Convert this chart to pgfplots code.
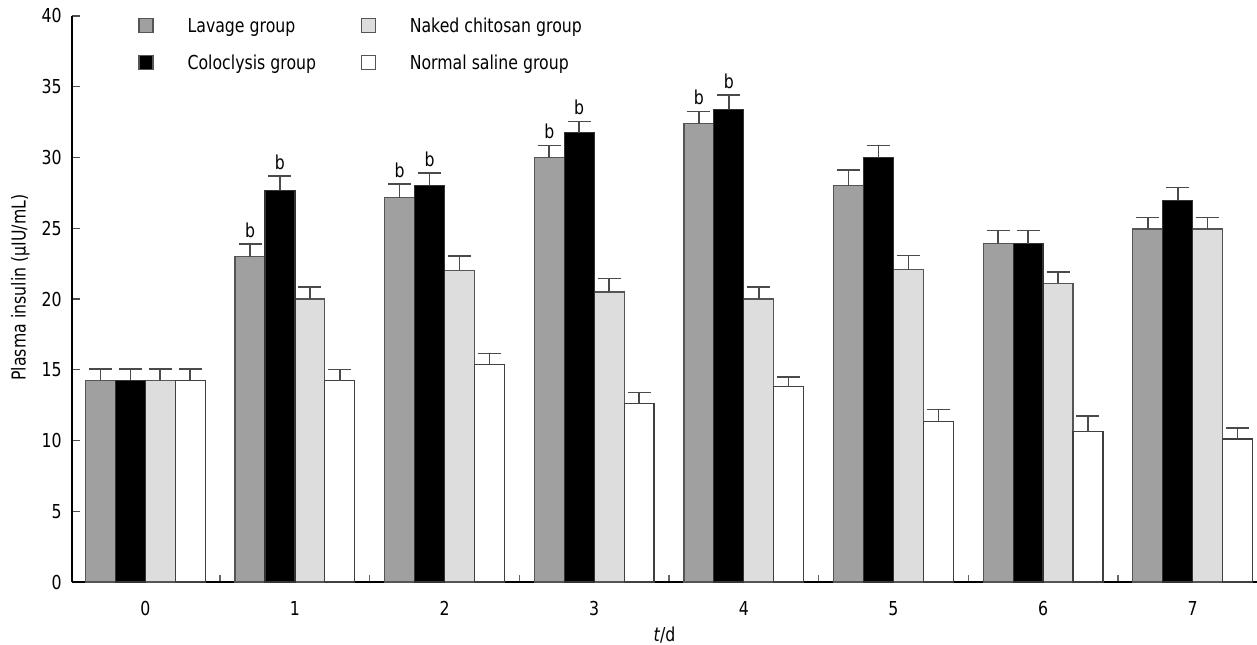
\documentclass[border=0pt]{standalone}
\usepackage{fontspec}
\setmainfont{DejaVu Sans}[FakeStretch=0.82]
\usepackage{pgfplots}
\pgfplotsset{compat=1.18}
\definecolor{lav}{HTML}{A0A0A0}
\definecolor{nak}{HTML}{DCDDDC}
\definecolor{edge}{HTML}{555555}
\definecolor{ebar}{HTML}{4A4A4A}
\newcommand\ff{\fontsize{9.6}{11.5}\selectfont}
\pgfplotsset{
  sq/.style={legend image code/.code={\draw[##1, draw=edge, line width=0.6pt] (0pt,-2.5pt) rectangle (7pt,4.5pt);}},
  eb/.style={error bars/y dir=plus, error bars/y explicit,
    error bars/error bar style={line width=0.8pt, ebar},
    error bars/error mark options={rotate=90, mark size=5.75pt, line width=0.8pt, ebar}},
}
\begin{document}
\ff
\begin{tikzpicture}
\begin{axis}[
  scale only axis, width=592.5pt, height=283pt,
  at={(0,0)}, anchor=south west,
  xmin=-0.49, xmax=7.43, ymin=0, ymax=40,
  axis x line*=bottom, axis y line*=left,
  axis line style={line width=0.6pt, black},
  ybar=0pt, bar width=0.2,
  xtick={0,...,7}, minor xtick={0.5,1.5,...,6.5},
  ytick={0,5,...,40},
  major x tick style={draw=none},
  minor x tick style={line width=0.7pt, black!60},
  major y tick style={line width=0.6pt, black!70},
  tick align=inside,
  major tick length=4pt, minor tick length=3.5pt,
  /pgf/number format/assume math mode=true,
  tick label style={font=\ff},
  xticklabel style={inner sep=0pt, anchor=north, yshift=-9.3pt},
  yticklabel style={inner sep=0pt, anchor=east, xshift=-5pt},
  xlabel={\textit{t}/d},
  xlabel style={at={(axis description cs:0.5,0)}, anchor=north, inner sep=0pt, yshift=-22.5pt, font=\ff},
  ylabel={Plasma insulin (μIU/mL)},
  ylabel style={at={(axis description cs:-0.0354,0.52)}, anchor=south, inner sep=0pt, font=\ff},
  legend columns=2,
  legend cell align=left,
  legend style={at={(0.0557,0.99735)}, anchor=north west, draw=none, fill=none, inner sep=0pt,
    font=\ff, row sep=9.35pt,
    nodes={inner sep=0pt, text height=7pt, text depth=2pt},
    /tikz/every odd column/.style={column sep=17pt},
    /tikz/every even column/.style={column sep=0pt}},
]
\addplot[fill=lav, draw=edge, line width=0.6pt, bar shift=-0.3, sq, eb] coordinates {
 (0,14.25) +- (0,0.82) (1,23.0) +- (0,0.87) (2,27.16) +- (0,0.97) (3,30.0) +- (0,0.85)
 (4,32.4) +- (0,0.85) (5,28.0) +- (0,1.1) (6,23.9) +- (0,0.95) (7,24.95) +- (0,0.8)};
\addlegendentry{\makebox[86.5pt][l]{Lavage group}}
\addplot[fill=nak, draw=edge, line width=0.6pt, bar shift=0.1, sq, eb] coordinates {
 (0,14.25) +- (0,0.82) (1,20.0) +- (0,0.85) (2,22.02) +- (0,1.0) (3,20.49) +- (0,0.95)
 (4,20.0) +- (0,0.85) (5,22.07) +- (0,1.0) (6,21.1) +- (0,0.8) (7,24.95) +- (0,0.8)};
\addlegendentry{Naked chitosan group}
\addplot[fill=black, draw=black!80, line width=0.6pt, bar shift=-0.1, sq, eb] coordinates {
 (0,14.25) +- (0,0.82) (1,27.67) +- (0,1.04) (2,28.04) +- (0,0.87) (3,31.74) +- (0,0.8)
 (4,33.41) +- (0,1.0) (5,30.0) +- (0,0.85) (6,23.9) +- (0,0.95) (7,26.98) +- (0,0.9)};
\addlegendentry{\makebox[86.5pt][l]{Coloclysis group}}
\addplot[fill=white, draw=black!75, line width=0.6pt, bar shift=0.3, sq, eb] coordinates {
 (0,14.25) +- (0,0.82) (1,14.22) +- (0,0.8) (2,15.36) +- (0,0.8) (3,12.64) +- (0,0.75)
 (4,13.8) +- (0,0.7) (5,11.33) +- (0,0.87) (6,10.63) +- (0,1.1) (7,10.1) +- (0,0.8)};
\addlegendentry{Normal saline group}
\node[anchor=south, inner sep=0pt, yshift=3pt, font=\ff] at (axis cs:0.7,23.87) {b};
\node[anchor=south, inner sep=0pt, yshift=3pt, font=\ff] at (axis cs:0.9,28.71) {b};
\node[anchor=south, inner sep=0pt, yshift=3pt, font=\ff] at (axis cs:1.7,28.13) {b};
\node[anchor=south, inner sep=0pt, yshift=3pt, font=\ff] at (axis cs:1.9,28.91) {b};
\node[anchor=south, inner sep=0pt, yshift=3pt, font=\ff] at (axis cs:2.7,30.85) {b};
\node[anchor=south, inner sep=0pt, yshift=3pt, font=\ff] at (axis cs:2.9,32.54) {b};
\node[anchor=south, inner sep=0pt, yshift=3pt, font=\ff] at (axis cs:3.7,33.25) {b};
\node[anchor=south, inner sep=0pt, yshift=3pt, font=\ff] at (axis cs:3.9,34.41) {b};
\end{axis}
\pgfresetboundingbox
\path[use as bounding box] (-36pt,-31.15pt) rectangle (592.5pt,291pt);
\end{tikzpicture}
\end{document}
